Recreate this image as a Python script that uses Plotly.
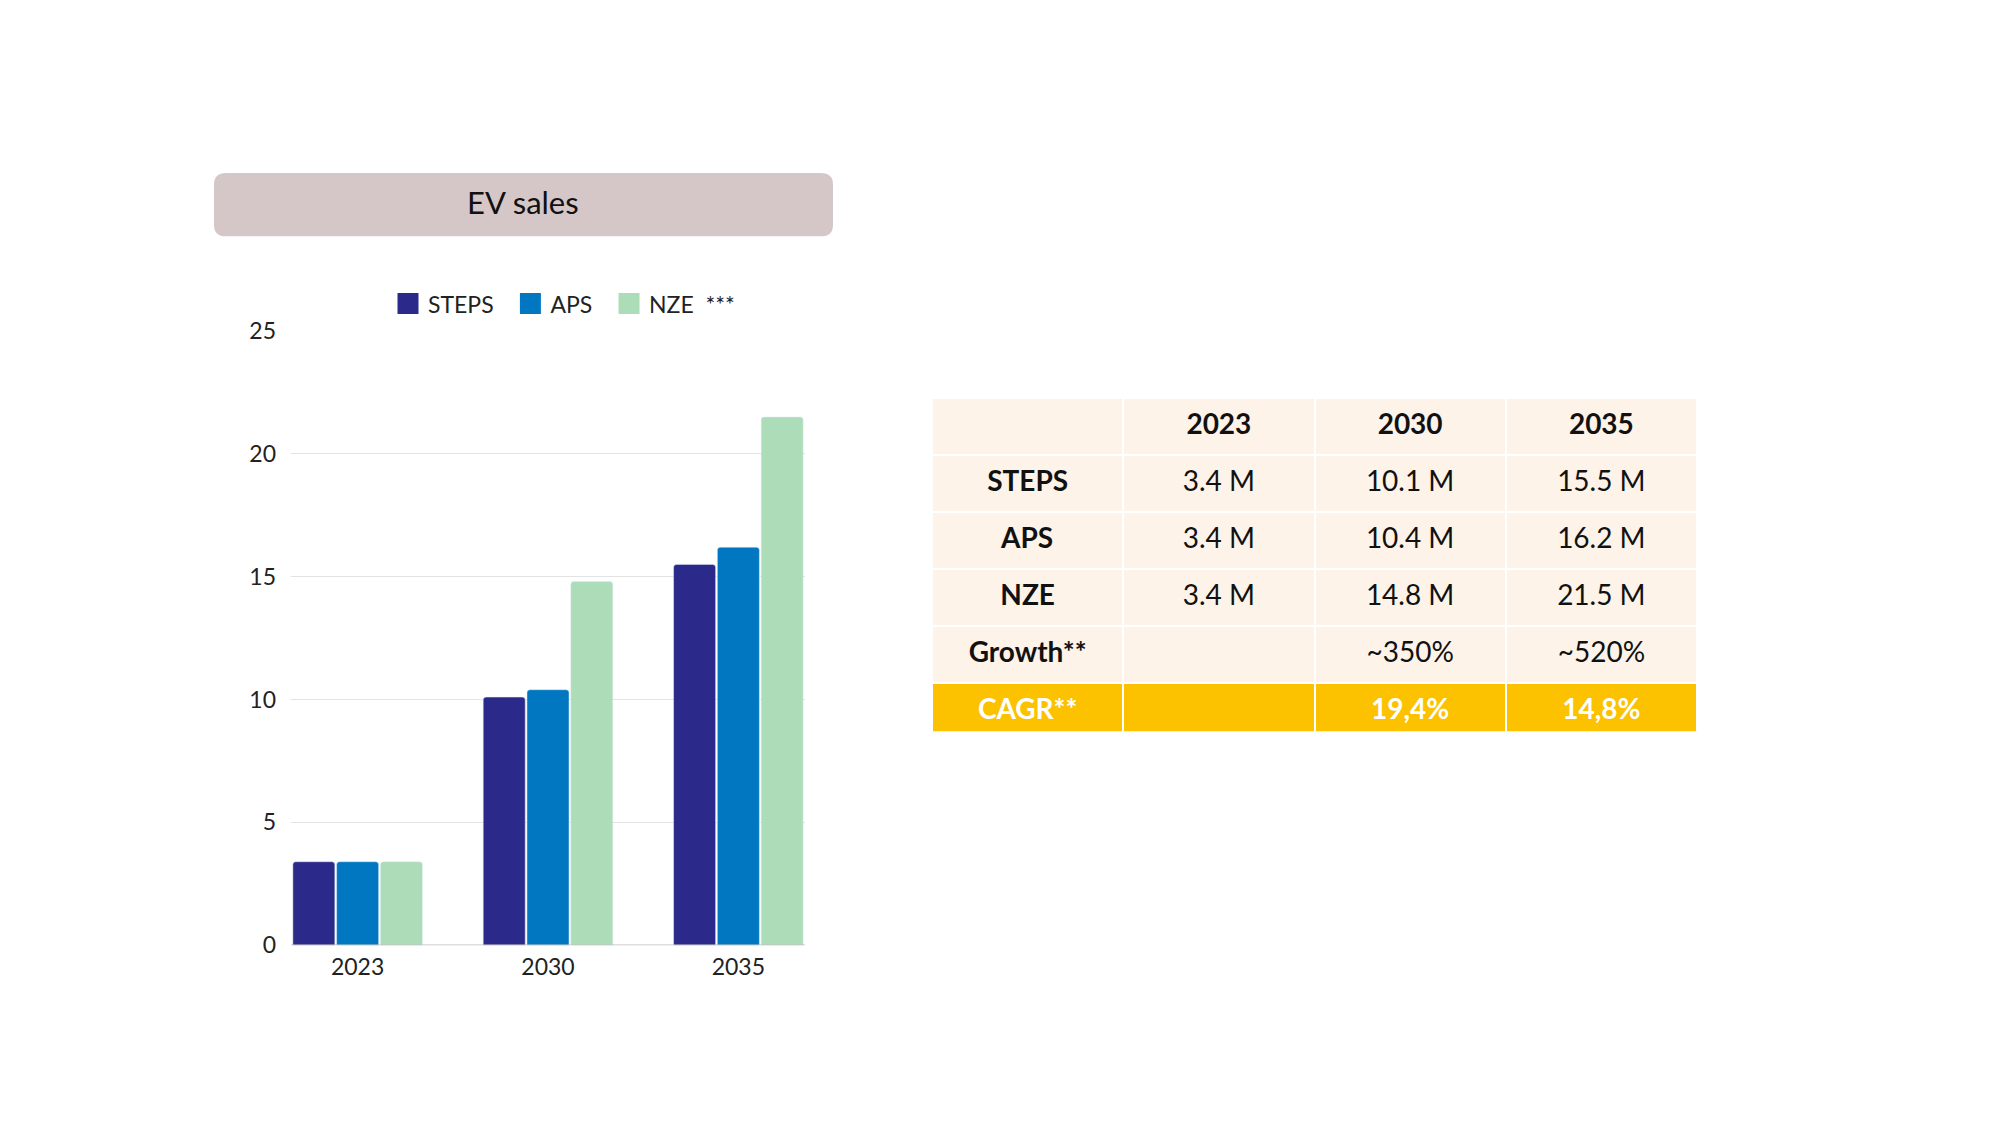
import plotly.graph_objects as go

# ---- data ----
years = ["2023", "2030", "2035"]
steps = [3.4, 10.1, 15.5]
aps = [3.4, 10.4, 16.2]
nze = [3.4, 14.8, 21.5]

series_names = ["STEPS", "APS", "NZE"]
legend_names = ["STEPS&nbsp;&nbsp;", "APS&nbsp;&nbsp;", "NZE &nbsp;***"]
colors = ["#2b2a8a", "#0077c0", "#acdcb8"]

y_ticks = [0, 5, 10, 15, 20, 25]

table_header = ["", "2023", "2030", "2035"]
row_labels = ["STEPS", "APS", "NZE", "Growth**", "CAGR**"]
col_2023 = ["3.4 M", "3.4 M", "3.4 M", "", ""]
col_2030 = ["10.1 M", "10.4 M", "14.8 M", "~350%", "19,4%"]
col_2035 = ["15.5 M", "16.2 M", "21.5 M", "~520%", "14,8%"]

chart_title = "EV sales"

# ---- layout helpers ----
W, H = 2000, 1125
FONT = "Century Gothic, URW Gothic, Lato, sans-serif"


def px(x):
    return x / W


def py(y):
    return 1 - y / H


def rounded_rect(x0, y0, x1, y1, r):
    def P(x, y):
        return f"{px(x):.5f},{py(y):.5f}"
    return (f"M {P(x0 + r, y0)} L {P(x1 - r, y0)} Q {P(x1, y0)} {P(x1, y0 + r)} "
            f"L {P(x1, y1 - r)} Q {P(x1, y1)} {P(x1 - r, y1)} "
            f"L {P(x0 + r, y1)} Q {P(x0, y1)} {P(x0, y1 - r)} "
            f"L {P(x0, y0 + r)} Q {P(x0, y0)} {P(x0 + r, y0)} Z")


fig = go.Figure()

values = [steps, aps, nze]
for name, vals, col in zip(series_names, values, colors):
    fig.add_trace(go.Bar(
        x=years, y=vals, name=name, marker=dict(color=col, cornerradius=3),
        showlegend=False, hoverinfo="x+y+name",
    ))

# legend entries with larger swatches
for lname, col in zip(legend_names, colors):
    fig.add_trace(go.Scatter(
        x=[None], y=[None], mode="markers", name=lname,
        marker=dict(symbol="square", size=16, color=col,
                    line=dict(color=col, width=5)),
        showlegend=True,
    ))

# table
n_rows = len(row_labels)
cream = "#fdf3e9"
gold = "#fcc200"
fill_col = [cream] * (n_rows - 1) + [gold]
font_col = ["#111111"] * (n_rows - 1) + ["#ffffff"]


def bold(lst):
    return [f"<b>{v}</b>" if v else "" for v in lst]


def plain(lst):
    return [f"<span>{v}</span>" if v else "" for v in lst]


cells_values = [
    bold(row_labels),
    plain(col_2023[:-1]) + bold(col_2023[-1:]),
    plain(col_2030[:-1]) + bold(col_2030[-1:]),
    plain(col_2035[:-1]) + bold(col_2035[-1:]),
]

fig.add_trace(go.Table(
    domain=dict(x=[px(932), px(1697)], y=[py(735), py(393)]),
    columnwidth=[1, 1, 1, 1],
    header=dict(
        values=bold(table_header),
        fill_color=cream,
        line=dict(color="white", width=2),
        align="center",
        height=57,
        font=dict(family=FONT, size=28, color="#111111"),
    ),
    cells=dict(
        values=cells_values,
        fill_color=[fill_col] * 4,
        line=dict(color="white", width=2),
        align="center",
        height=57,
        font=dict(family=FONT, size=28, color=[font_col] * 4),
    ),
))

fig.update_layout(
    width=W, height=H,
    margin=dict(l=0, r=0, t=0, b=0),
    paper_bgcolor="white", plot_bgcolor="white",
    barmode="group", bargap=0.31, bargroupgap=0.04,
    font=dict(family=FONT, size=23, color="#222222"),
    legend=dict(
        orientation="h", x=px(388), y=py(296), xanchor="left", yanchor="middle",
        font=dict(family=FONT, size=23, color="#222222"),
        itemwidth=30, traceorder="normal", bgcolor="rgba(0,0,0,0)",
    ),
    xaxis=dict(
        domain=[px(291), px(805)], range=[-0.35, 2.35],
        showgrid=False, showline=False, zeroline=False,
        ticks="", tickfont=dict(size=23, color="#222222"),
        ticklabelstandoff=6,
        fixedrange=True,
    ),
    yaxis=dict(
        domain=[py(954), py(324)], range=[0, 25], tickvals=y_ticks,
        showgrid=True, gridcolor="#e3e3e3", gridwidth=1,
        zeroline=False, showline=False, ticks="",
        ticklabelstandoff=14,
        tickfont=dict(size=23, color="#222222"),
        fixedrange=True,
    ),
    shapes=[
        dict(type="path", xref="paper", yref="paper",
             path=rounded_rect(214, 162, 833, 227, 12),
             fillcolor="#d5c7c7", line=dict(width=0), layer="below"),
        dict(type="line", xref="paper", yref="y", x0=px(291), x1=px(805), y0=0, y1=0,
             line=dict(color="#bdbdbd", width=1.5), layer="above"),
    ],
    annotations=[
        dict(text=chart_title, xref="paper", yref="paper", x=px(523), y=py(192),
             xanchor="center", yanchor="middle", showarrow=False,
             font=dict(family=FONT, size=31, color="#111111")),
    ],
)

fig.write_html(
    "out.html",
    config={"displayModeBar": False},
    post_script="document.body.style.margin='0';document.body.style.overflow='hidden';",
)
